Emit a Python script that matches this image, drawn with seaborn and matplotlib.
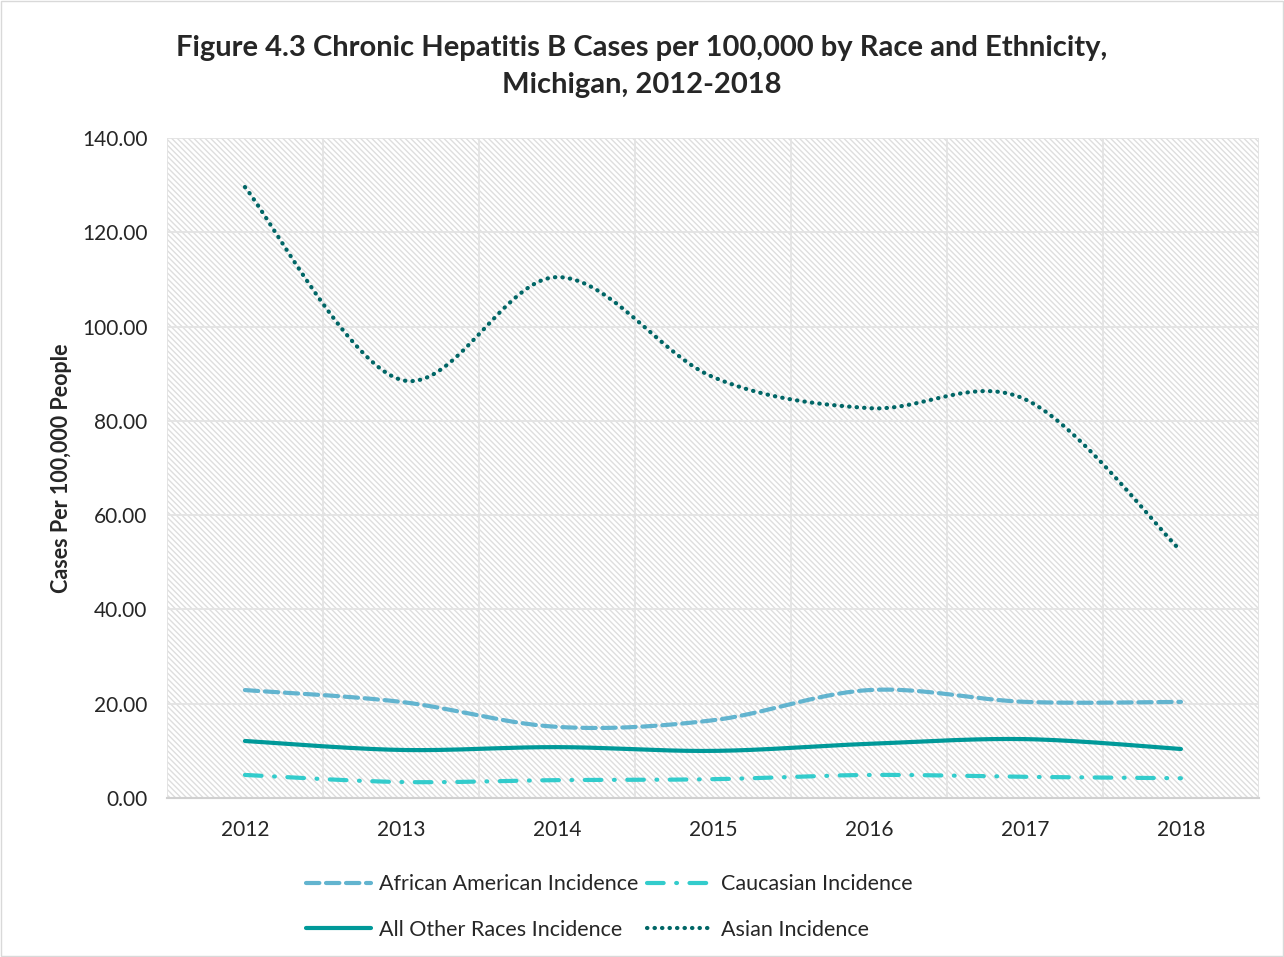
import numpy as np
import pandas as pd
import matplotlib
matplotlib.use("Agg")
import matplotlib.pyplot as plt
import seaborn as sns

years = [2012, 2013, 2014, 2015, 2016, 2017, 2018]
african_american = [22.9, 20.4, 15.1, 16.5, 22.9, 20.4, 20.4]
caucasian = [4.9, 3.4, 3.8, 4.0, 4.9, 4.5, 4.2]
all_other = [12.1, 10.2, 10.8, 10.0, 11.5, 12.5, 10.4]
asian = [129.6, 88.7, 110.5, 89.3, 82.7, 84.6, 52.4]

series_names = ["African American Incidence", "All Other Races Incidence",
                "Caucasian Incidence", "Asian Incidence"]
series_vals = [african_american, all_other, caucasian, asian]
colors = ["#62b4cf", "#009999", "#33cccc", "#006666"]
dashes = [(3.2, 1.6), (), (4, 3, 0.2, 3), (0.1, 1.7)]


def smooth(xs, ys, n=30):
    # excel-like smoothed line (catmull-rom bezier)
    p = np.column_stack([xs, ys]).astype(float)
    p = np.vstack([p[0], p, p[-1]])
    out = []
    for i in range(1, len(p) - 2):
        p0, p1, p2, p3 = p[i - 1], p[i], p[i + 1], p[i + 2]
        c1 = p1 + (p2 - p0) / 6
        c2 = p2 - (p3 - p1) / 6
        t = np.linspace(0, 1, n)[:, None]
        seg = ((1 - t) ** 3) * p1 + 3 * ((1 - t) ** 2) * t * c1 + 3 * (1 - t) * t ** 2 * c2 + t ** 3 * p2
        out.append(seg if i == 1 else seg[1:])
    return np.vstack(out)


sns.set_theme(style="white")
plt.rcParams['font.family'] = ['Lato', 'DejaVu Sans']
plt.rcParams['hatch.color'] = '#dedede'
plt.rcParams['hatch.linewidth'] = 1.0

fig = plt.figure(figsize=(12.84, 9.57), dpi=100)
ax = fig.add_axes([0.130, 0.1661, 0.8505, 0.6897])

ax.patch.set_facecolor("white")
ax.patch.set_hatch("\\\\\\\\\\\\")
ax.patch.set_edgecolor("#dedede")

for name, vals, c, d in zip(series_names, series_vals, colors, dashes):
    pts = smooth(years, vals)
    df = pd.DataFrame({"x": pts[:, 0], "y": pts[:, 1]})
    sns.lineplot(data=df, x="x", y="y", ax=ax, sort=False, estimator=None,
                 color=c, lw=3, label=name)
    line = ax.get_lines()[-1]
    if d:
        line.set_dashes(d)
    line.set_solid_capstyle("round")
    line.set_dash_capstyle("round")

ax.set_xlim(2011.5, 2018.5)
ax.set_ylim(0, 140)
ax.set_yticks(np.arange(0, 141, 20))
ax.set_yticklabels([f"{v:.2f}" for v in np.arange(0, 141, 20)], fontsize=15)
ax.set_xticks(years)
ax.set_xticklabels([str(y) for y in years], fontsize=15)
ax.set_xticks(np.arange(2011.5, 2018.6, 0.5), minor=True)
ax.grid(True, which="major", axis="y", color="#e3e3e3", lw=1.3)
ax.grid(True, which="minor", axis="x", color="#e3e3e3", lw=1.3)
ax.tick_params(axis="y", length=0, pad=14)
ax.tick_params(axis="x", length=0, pad=16)
ax.set_axisbelow(True)
for s in ["top", "right", "left"]:
    ax.spines[s].set_visible(False)
ax.spines["bottom"].set_color("#d0d0d0")
ax.spines["bottom"].set_linewidth(1.5)

ax.set_xlabel("")
ax.set_ylabel("Cases Per 100,000 People", fontsize=15.5, fontweight="bold", labelpad=7)

fig.suptitle("Figure 4.3 Chronic Hepatitis B Cases per 100,000 by Race and Ethnicity,\nMichigan, 2012-2018",
             fontsize=21, fontweight="bold", y=0.963, linespacing=1.5)

leg = ax.legend(loc="upper center", bbox_to_anchor=(0.405, -0.086), ncol=2, frameon=False,
                fontsize=15.5, handlelength=3.0, columnspacing=0.4, handletextpad=0.4,
                labelspacing=1.2)

border = plt.Rectangle((0.001, 0.001), 0.998, 0.998, transform=fig.transFigure,
                       fill=False, edgecolor="#d9d9d9", lw=1)
fig.patches.append(border)

fig.savefig("out.png", dpi=100)
